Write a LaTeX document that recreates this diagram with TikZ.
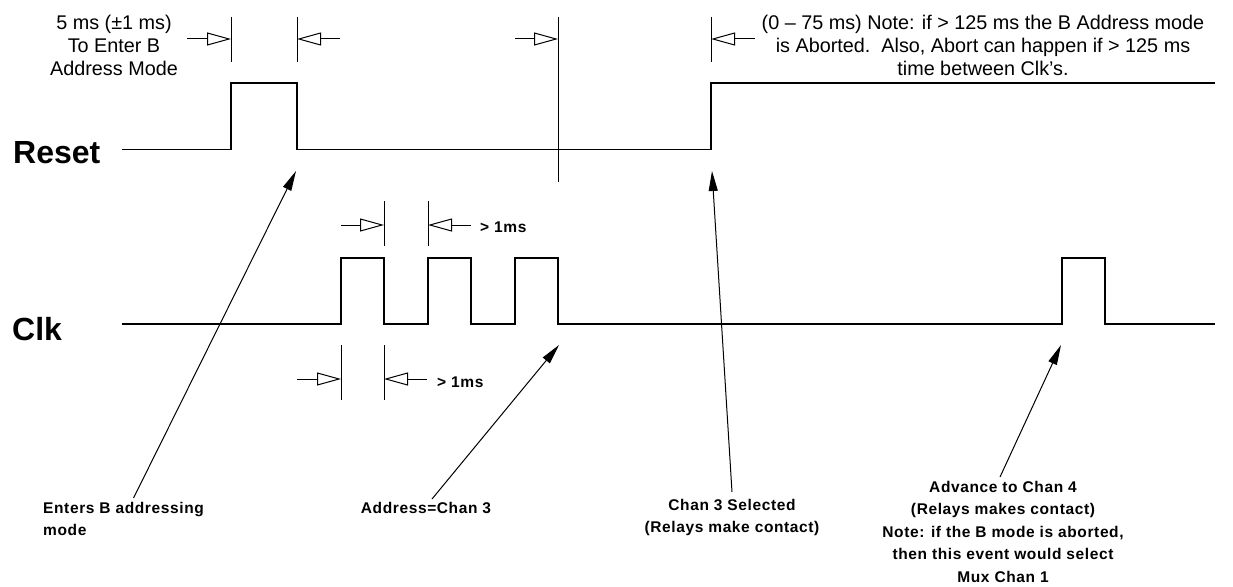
\documentclass[tikz,border=0pt]{standalone}
\usepackage{fontspec}
\setmainfont{Liberation Sans}
\newfontfamily\tagfont[LetterSpace=4]{Liberation Sans}
\usetikzlibrary{arrows.meta}

\tikzset{
  wave/.style={line width=1.4pt},
  tick/.style={line width=1pt},
  dim/.style={line width=1pt, -{Triangle[open,length=24pt,width=13pt]}},
  leader/.style={line width=1pt, -{Triangle[length=20pt,width=9pt]}},
  sig/.style={font=\bfseries\fontsize{32}{32}\selectfont, inner sep=0pt},
  note/.style={font=\fontsize{19.8}{23}\selectfont, align=center, inner sep=0pt},
  tag/.style={font=\tagfont\bfseries\fontsize{15.5}{22.5}\selectfont, align=center, inner sep=0pt},
}

\begin{document}
\begin{tikzpicture}[x=1pt,y=-1pt]
    \useasboundingbox (0,0) rectangle (1233,586);

    % Signal names
    \node[sig, anchor=base west] (reset) at (13,163) {Reset};
    \node[sig, anchor=base west] (clk) at (12,340) {Clk};

    % Reset waveform
    \draw[wave] (122,149.5) -- (231,149.5) -- (231,83) -- (297,83) -- (297,149.5)
        -- (711,149.5) -- (711,83) -- (1215,83);

    % Clk waveform: three address pulses, then the advance pulse
    \draw[wave] (122,324)
        \foreach \x in {341,428,515} { -- (\x,324) -- (\x,258) -- (\x+43,258) -- (\x+43,324) }
        -- (1062,324) -- (1062,258) -- (1105,258) -- (1105,324) -- (1215,324);

    % Timing marks over Reset
    \draw[tick] (231,17) -- (231,62);
    \draw[tick] (297,17) -- (297,62);
    \draw[tick] (558,17) -- (558,182);
    \draw[tick] (711,17) -- (711,62);
    \draw[dim] (187,39) -- (231,39);
    \draw[dim] (340,39) -- (297,39);
    \draw[dim] (515,39) -- (558,39);
    \draw[dim] (755,39) -- (711,39);

    \node[note] (holdNote) at (114,45) {5 ms (±1 ms)\\To Enter B\\Address Mode};
    \node[note] (abortNote) at (983,45) {(0 – 75 ms) Note: if > 125 ms the B Address mode\\is Aborted.\ \ Also, Abort can happen if > 125 ms\\time between Clk’s.};

    % Clk gaps
    \draw[tick] (384,201) -- (384,246);
    \draw[tick] (428,201) -- (428,246);
    \draw[dim] (341,225) -- (384,225);
    \draw[dim] (471,225) -- (428,225);
    \node[tag, anchor=west] (gapTop) at (480,227) {> 1ms};

    \draw[tick] (341,345) -- (341,400);
    \draw[tick] (384,345) -- (384,400);
    \draw[dim] (297,379) -- (341,379);
    \draw[dim] (427,379) -- (384,379);
    \node[tag, anchor=west] (gapBot) at (437,382) {> 1ms};

    % Events
    \coordinate (enterTip) at (296,171);
    \coordinate (addrTip) at (559,345);
    \coordinate (selTip) at (712,171);
    \coordinate (advTip) at (1061,345);

    \node[tag, align=left, anchor=north west] (enterNote) at (43,502) {Enters B addressing\\mode};
    \node[tag, anchor=north] (addrNote) at (426,502) {Address=Chan 3};
    \node[tag, anchor=north] (selNote) at (732,499) {Chan 3 Selected\\(Relays make contact)};
    \node[tag, anchor=north] (advNote) at (1003,481) {Advance to Chan 4\\(Relays makes contact)\\Note: if the B mode is aborted,\\then this event would select\\Mux Chan 1};

    \draw[leader] ([xshift=10pt,yshift=4pt]enterNote.north) -- (enterTip);
    \draw[leader] ([xshift=6pt,yshift=3pt]addrNote.north) -- (addrTip);
    \draw[leader] ([yshift=7pt]selNote.north) -- (selTip);
    \draw[leader] ([xshift=-3pt,yshift=4pt]advNote.north) -- (advTip);

\end{tikzpicture}
\end{document}
